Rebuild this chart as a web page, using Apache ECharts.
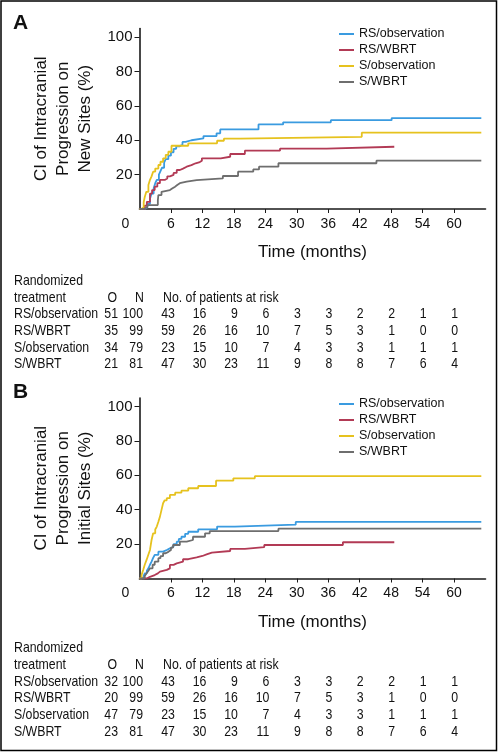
<!DOCTYPE html>
<html><head><meta charset="utf-8">
<script src="https://cdn.jsdelivr.net/npm/echarts@6/dist/echarts.min.js"></script>
<style>html,body{margin:0;padding:0;background:#fff}#c{width:500px;height:752px}</style>
</head><body><div id="c"></div>
<script>
// ---------- DATA ----------
const seriesNames = ['RS/observation','RS/WBRT','S/observation','S/WBRT'];
const xTickLabels = [0,6,12,18,24,30,36,42,48,54,60];
const xTicks = [6,12,18,24,30,36,42,48,54,60];
const yTicks = [20,40,60,80,100];
const riskTimes = [6,12,18,24,30,36,42,48,54,60];

// Panel A: new sites (month, %)
const aRSobs = [[0,0],[1.0,1],[1.5,3],[2.0,6],[2.3,9],[2.7,12],[3.0,15],[3.3,17],[3.7,20],[4.0,22],[4.3,24],[4.7,27],[5.0,29],[5.5,31],[6.0,33],[6.5,35],[7.0,36.5],[7.7,37.5],[8.2,39],[8.8,40],[9.9,41.1],[12.2,42.4],[14.7,44],[15.4,46.3],[22.7,49.2],[27.4,50.4],[36.5,51.7],[48.1,52.9],[65.2,52.9]];
const aRSwbrt = [[0,0],[1.0,2],[1.4,4.2],[2.0,9],[2.4,11],[2.9,13],[3.4,15],[3.9,16.9],[4.8,17.8],[5.3,19],[5.8,19.8],[6.5,21],[7.1,22.7],[7.7,23.5],[8.3,24.6],[9.0,25.5],[9.9,26.6],[10.7,27.3],[11.5,28.1],[11.9,29.5],[15.5,30.4],[17.3,32],[20.1,33.9],[26.8,35.1],[35.7,36.2],[48.6,36.2]];
const aSobs = [[0,0],[0.4,1],[0.8,4],[1.0,7],[1.3,10],[1.7,14],[2.0,17],[2.3,19],[2.6,21.7],[3.0,23.5],[3.6,25.6],[4.0,27.5],[4.5,29.5],[5.0,31.5],[5.5,33.3],[6.1,36.8],[9.3,38.2],[14.8,39.7],[16.1,40.9],[19.2,42],[42.4,44.4],[65.2,44.4]];
const aSwbrt = [[0,0],[0.8,1],[1.5,2.3],[3.5,5],[3.6,8.1],[4.2,10],[4.5,11],[5.8,12],[6.3,13],[6.8,14],[7.2,15],[7.7,15.9],[9.0,16.8],[10.9,17.8],[15.9,19.2],[18.8,21.7],[21.7,23],[22.8,24.6],[26.5,26.6],[45.2,28.1],[65.2,28.1]];

// Panel B: initial sites (month, %)
const bRSobs = [[0,0],[0.8,1.5],[1.0,3],[1.4,4.5],[1.7,5.9],[2.0,8],[2.3,9.8],[2.6,12],[2.9,13.7],[3.6,15.6],[4.5,16.6],[5.2,17.5],[5.8,18.5],[6.5,20],[7.1,21.4],[7.5,23],[8.0,24.3],[8.7,26],[9.3,27.2],[11.2,28.6],[14.8,30.2],[18.2,31.3],[29.8,32.9],[65.2,32.9]];
const bRSwbrt = [[0,0],[1.35,1],[2.0,2],[2.9,3],[3.5,4],[3.9,5],[5.2,5.9],[5.8,7.9],[6.5,8.8],[7.1,9.8],[8.3,11.2],[9.3,12.3],[10.9,13.1],[12.0,14],[12.8,15],[13.8,16],[17.3,17.2],[20.1,18.3],[23.8,19.5],[38.8,21.1],[48.6,21.1]];
const bSobs = [[0,0],[0.4,2],[0.7,4.9],[1.0,8],[1.35,10.8],[1.7,14],[2.0,16.6],[2.3,22.4],[2.6,26.3],[3.0,28.5],[3.3,30.2],[3.6,33],[3.9,36],[4.2,39.9],[4.5,43.8],[4.8,45.5],[5.2,46.7],[5.8,48.6],[6.8,49.9],[8.0,51.1],[9.3,52.5],[11.2,53.8],[14.6,56.9],[17.9,58.3],[22.0,59.5],[65.2,59.5]];
const bSwbrt = [[0,0],[1.0,1.5],[1.35,3],[1.7,4.5],[2.0,5.9],[2.5,8],[2.9,9.8],[3.6,11.8],[4.0,13],[4.5,14.7],[5.0,15.5],[5.5,16.6],[6.0,18],[6.4,19.5],[7.7,21.4],[9.0,22.4],[10.2,24.3],[12.5,26.3],[13.4,27.6],[26.5,29],[65.2,29]];

// Tables
const aEvents = [51,35,34,21];
const bEvents = [32,20,47,23];
const nPatients = [100,99,79,81];
const atRisk = [
  [43,16,9,6,3,3,2,2,1,1],
  [59,26,16,10,7,5,3,1,0,0],
  [23,15,10,7,4,3,3,1,1,1],
  [47,30,23,11,9,8,8,7,6,4]
];
const yTitleA = 'CI of Intracranial\nProgression on\nNew Sites (%)';
const yTitleB = 'CI of Intracranial\nProgression on\nInitial Sites (%)';
const xTitle = 'Time (months)';

// ---------- STYLE ----------
const colors = ['#3a9be0','#b23a55','#e6c21e','#6e6e6e'];
const FONT = '"Liberation Sans", Arial, Helvetica, sans-serif';
const TXT = '#111';

const chart = echarts.init(document.getElementById('c'), null, {renderer:'canvas'});

function xAxisDef(gi){
  return {
    type:'value', gridIndex:gi, min:0, max:66,
    name:xTitle, nameLocation:'middle', nameGap:35,
    nameTextStyle:{fontFamily:FONT,fontSize:17,color:TXT},
    axisLine:{lineStyle:{color:'#1a1a1a',width:1.6}},
    axisTick:{show:true,length:4,inside:false,customValues:xTicks,lineStyle:{color:'#1a1a1a',width:1}},
    axisLabel:{customValues:xTickLabels,margin:8,fontFamily:FONT,fontSize:14,color:TXT,
      formatter:v=> v===0 ? '{z|0}' : String(v),
      rich:{z:{fontFamily:FONT,fontSize:14,color:TXT,padding:[0,28,0,0]}}},
    splitLine:{show:false}
  };
}
function yAxisDef(gi,title){
  return {
    type:'value', gridIndex:gi, min:0, max:105,
    name:title, nameLocation:'middle', nameRotate:90, nameGap:39,
    nameTextStyle:{fontFamily:FONT,fontSize:17,color:TXT,lineHeight:22},
    axisLine:{show:true,lineStyle:{color:'#1a1a1a',width:1.6}},
    axisTick:{show:true,length:5,customValues:yTicks,lineStyle:{color:'#1a1a1a',width:1}},
    axisLabel:{customValues:yTicks,margin:7,fontFamily:FONT,fontSize:15,color:TXT},
    splitLine:{show:false}
  };
}
function ser(name,data,ci,gi){
  return {name, type:'line', xAxisIndex:gi, yAxisIndex:gi, step:'end', data,
    showSymbol:false, symbol:'none', color:colors[ci],
    lineStyle:{width:1.8,color:colors[ci]}, animation:false};
}
function legendDef(top){
  return {orient:'vertical', left:339, top, padding:0, itemGap:0, itemWidth:15, itemHeight:2,
    icon:'rect', data:seriesNames,
    textStyle:{fontFamily:FONT,fontSize:12.5,color:TXT,lineHeight:16}};
}

chart.setOption({
  animation:false,
  grid:[
    {left:139.5,top:28.5,width:346,height:180.5,containLabel:false},
    {left:139.5,top:398,width:346,height:180.5,containLabel:false}
  ],
  xAxis:[xAxisDef(0),xAxisDef(1)],
  yAxis:[yAxisDef(0,yTitleA),yAxisDef(1,yTitleB)],
  legend:[legendDef(26), legendDef(396)],
  series:[
    ser(seriesNames[0],aRSobs,0,0),ser(seriesNames[1],aRSwbrt,1,0),ser(seriesNames[2],aSobs,2,0),ser(seriesNames[3],aSwbrt,3,0),
    ser(seriesNames[0],bRSobs,0,1),ser(seriesNames[1],bRSwbrt,1,1),ser(seriesNames[2],bSobs,2,1),ser(seriesNames[3],bSwbrt,3,1)
  ]
});

// ---------- TABLES & LABELS ----------
const g = [];
const NARROW_SCALE = 0.82;
function ntxt(x,y,s,align){
  g.push({type:'text',silent:true,x:x,y:y,scaleX:NARROW_SCALE,scaleY:1,
    style:{x:0,y:0,text:String(s),textAlign:align||'left',textVerticalAlign:'middle',
      fontFamily:FONT,fontSize:15,fill:TXT}});
}
function txt(x,y,s,align,size,weight){
  g.push({type:'text',silent:true,style:{x,y,text:String(s),textAlign:align||'left',textVerticalAlign:'middle',
    fontFamily:FONT,fontSize:size||15,fontWeight:weight||'normal',fill:TXT}});
}
function table(y0,events,gi){
  const rowH = 16.7;
  ntxt(14,y0,'Randomized');
  ntxt(14,y0+rowH,'treatment');
  ntxt(117,y0+rowH,'O','right');
  ntxt(144,y0+rowH,'N','right');
  ntxt(163,y0+rowH,'No. of patients at risk');
  for(let r=0;r<4;r++){
    const y = y0 + rowH*(r+2);
    ntxt(14,y,seriesNames[r]);
    ntxt(118,y,events[r],'right');
    ntxt(143,y,nPatients[r],'right');
    riskTimes.forEach((t,k)=>{
      const px = chart.convertToPixel({xAxisIndex:gi},t);
      ntxt(px+4,y,atRisk[r][k],'right');
    });
  }
}
table(280.7,aEvents,0);
table(648,bEvents,1);
txt(13,23,'A','left',21,'bold');
txt(13,392,'B','left',21,'bold');
g.push({type:'rect',silent:true,shape:{x:1,y:1,width:495.5,height:749.5},style:{fill:'none',stroke:'#000',lineWidth:1.5}});
chart.setOption({graphic:g});
</script></body></html>
